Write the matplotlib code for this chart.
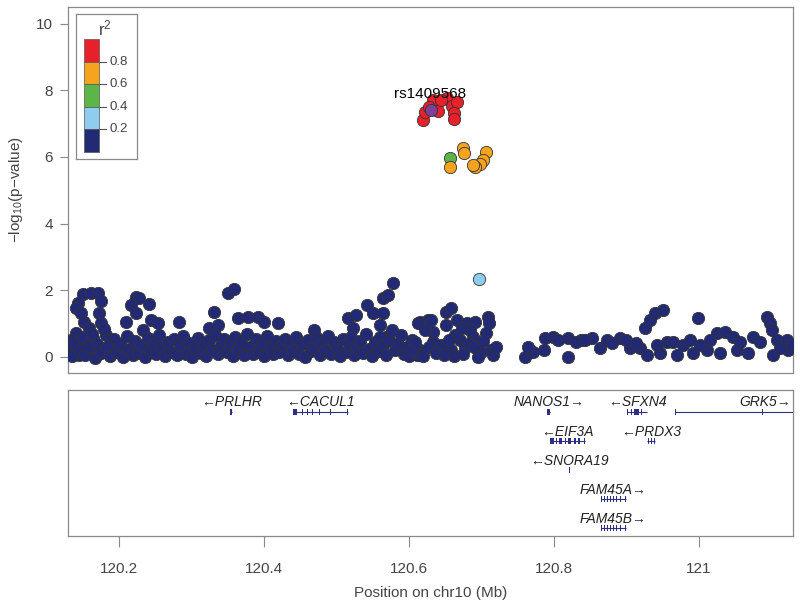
import matplotlib
matplotlib.use('Agg')
import matplotlib.pyplot as plt
from matplotlib.patches import Rectangle

plt.rcParams['font.family'] = ['Liberation Sans', 'DejaVu Sans']
plt.rcParams['mathtext.default'] = 'regular'

# ---- association results: (position Mb, -log10 p) by LD bin ----
lead_name = 'rs1409568'
lead_pos = [120.630]
lead_logp = [7.42]

red_snps = [(120.620, 7.12), (120.623, 7.34), (120.637, 7.62), (120.641, 7.37),
            (120.633, 7.72), (120.653, 7.77), (120.660, 7.52), (120.667, 7.64),
            (120.662, 7.32), (120.663, 7.14), (120.645, 7.70), (120.628, 7.50)]
orange_snps = [(120.657, 5.71), (120.675, 6.26), (120.676, 6.11), (120.706, 6.16),
               (120.703, 5.92), (120.698, 5.80), (120.692, 5.71), (120.689, 5.77)]
green_snps = [(120.657, 5.96)]
ltblue_snps = [(120.697, 2.34)]
navy_snps = [
    # left edge cluster
    (120.151, 1.89), (120.162, 1.92), (120.171, 1.92), (120.175, 1.68), (120.144, 1.62),
    (120.141, 1.47), (120.148, 1.32), (120.173, 1.32), (120.175, 1.02), (120.152, 1.05),
    (120.141, 0.72), (120.134, 0.51), (120.159, 0.87), (120.164, 0.57), (120.182, 0.66),
    (120.189, 0.51), (120.131, 0.21), (120.145, 0.06), (120.169, 0.15), (120.155, 0.33),
    (120.196, 0.27),
    (120.224, 1.80), (120.228, 1.77), (120.217, 1.56), (120.242, 1.59), (120.224, 1.32),
    (120.210, 1.05), (120.244, 1.11), (120.254, 1.02), (120.233, 0.81), (120.350, 1.92),
    (120.359, 2.04), (120.331, 1.35), (120.283, 1.05), (120.364, 1.17), (120.378, 1.20),
    (120.392, 1.20), (120.400, 1.05), (120.419, 1.02), (120.324, 0.87), (120.337, 0.96),
    (120.469, 0.81), (120.516, 1.17), (120.527, 1.26), (120.543, 1.56), (120.550, 1.32),
    (120.564, 1.32), (120.565, 1.77), (120.572, 1.86), (120.578, 2.22), (120.523, 0.87),
    (120.561, 0.96), (120.568, 0.60), (120.605, 0.51), (120.616, 1.05), (120.626, 1.11),
    (120.633, 0.75), (120.616, 0.21), (120.612, 0.06),
    # around the peak
    (120.613, 1.02), (120.630, 1.11), (120.651, 1.35), (120.658, 1.47), (120.667, 1.11),
    (120.681, 1.02), (120.692, 1.05), (120.709, 1.20), (120.710, 1.02), (120.706, 0.72),
    (120.671, 0.51), (120.678, 0.30), (120.713, 0.21), (120.658, 0.21), (120.634, 0.45),
    (120.688, 0.60), (120.699, 0.15), (120.644, 0.36), (120.664, 0.66), (120.623, 0.81),
    (120.685, 0.81), (120.651, 0.96), (120.674, 0.87),
    # right block
    (120.761, 0.00), (120.772, 0.15), (120.786, 0.21), (120.788, 0.57), (120.799, 0.60),
    (120.819, 0.57), (120.820, 0.00), (120.837, 0.51), (120.853, 0.57), (120.864, 0.27),
    (120.874, 0.51), (120.892, 0.57), (120.905, 0.27), (120.919, 0.27), (120.926, 0.87),
    (120.933, 1.11), (120.940, 1.32), (120.951, 1.41), (120.929, 0.06), (120.956, 0.45),
    (120.965, 0.45), (120.978, 0.36), (120.999, 1.17), (120.992, 0.12), (121.012, 0.21),
    (121.025, 0.72), (121.036, 0.75), (121.047, 0.60), (121.053, 0.21), (121.075, 0.60),
    (121.085, 0.45), (121.094, 1.20), (121.098, 1.02), (121.101, 0.81), (121.108, 0.51),
    (121.122, 0.51), (121.123, 0.21), (121.068, 0.12), (121.102, 0.06), (121.029, 0.12),
    (120.970, 0.06), (120.947, 0.12), (120.806, 0.51), (120.830, 0.45), (120.843, 0.51),
    (120.881, 0.42), (120.899, 0.51), (120.913, 0.42), (121.002, 0.36), (121.016, 0.51),
    (121.057, 0.45), (121.112, 0.27), (121.129, 0.36), (120.943, 0.36), (120.988, 0.51),
    (120.765, 0.30),
    # dense low band
    (120.132, 0.35), (120.136, 0.02), (120.140, 0.45), (120.146, 0.18), (120.150, 0.60),
    (120.153, 0.05), (120.158, 0.32), (120.163, 0.70), (120.167, -0.02), (120.170, 0.40),
    (120.176, 0.12), (120.180, 0.85), (120.184, 0.30), (120.188, 0.02), (120.193, 0.55),
    (120.198, 0.15), (120.202, 0.38), (120.206, 0.00), (120.211, 0.62), (120.214, 0.25),
    (120.219, 0.05), (120.222, 0.48), (120.227, 0.12), (120.231, 0.35), (120.236, 0.00),
    (120.240, 0.58), (120.243, 0.22), (120.248, 0.40), (120.252, 0.08), (120.256, 0.65),
    (120.260, 0.30), (120.264, 0.02), (120.268, 0.45), (120.272, 0.15), (120.276, 0.55),
    (120.281, 0.05), (120.285, 0.35), (120.289, 0.62), (120.293, 0.10), (120.297, 0.42),
    (120.301, 0.00), (120.305, 0.28), (120.309, 0.58), (120.313, 0.12), (120.317, 0.40),
    (120.321, 0.03), (120.325, 0.50), (120.329, 0.20), (120.333, 0.65), (120.337, 0.08),
    (120.341, 0.35), (120.345, 0.55), (120.349, 0.15), (120.353, 0.42), (120.357, 0.02),
    (120.361, 0.60), (120.365, 0.25), (120.369, 0.45), (120.373, 0.05), (120.377, 0.70),
    (120.381, 0.30), (120.385, 0.10), (120.389, 0.55), (120.393, 0.18), (120.397, 0.40),
    (120.401, 0.02), (120.405, 0.62), (120.409, 0.28), (120.413, 0.08), (120.417, 0.48),
    (120.421, 0.15), (120.425, 0.35), (120.429, 0.55), (120.433, 0.05), (120.437, 0.42),
    (120.441, 0.22), (120.445, 0.60), (120.449, 0.10), (120.453, 0.38), (120.457, 0.00),
    (120.461, 0.50), (120.465, 0.18), (120.469, 0.30), (120.473, 0.58), (120.477, 0.05),
    (120.481, 0.40), (120.485, 0.20), (120.489, 0.62), (120.493, 0.08), (120.497, 0.45),
    (120.501, 0.25), (120.505, 0.02), (120.509, 0.55), (120.513, 0.15), (120.517, 0.38),
    (120.521, 0.60), (120.525, 0.05), (120.529, 0.30), (120.533, 0.48), (120.537, 0.12),
    (120.541, 0.70), (120.545, 0.25), (120.549, 0.02), (120.553, 0.45), (120.557, 0.18),
    (120.561, 0.60), (120.565, 0.35), (120.569, 0.05), (120.573, 0.50), (120.577, 0.80),
    (120.581, 0.20), (120.585, 0.40), (120.589, 0.65), (120.593, 0.10), (120.597, 0.30),
    (120.601, 0.02), (120.605, 0.20), (120.609, 0.45), (120.620, 0.02), (120.628, 0.30),
    (120.638, 0.12), (120.648, 0.05), (120.655, 0.50), (120.662, 0.02), (120.675, 0.08),
    (120.683, 0.40), (120.690, 0.30), (120.696, 0.00), (120.703, 0.48), (120.716, 0.05),
    (120.720, 0.30),
]

r2_breaks = ['0.2', '0.4', '0.6', '0.8']
r2_colors = ['#222a75', '#8ecdf0', '#5bb647', '#f6a31e', '#e8202a']
lead_color = '#7d3f98'

# ---- genes ----
gene_names = ['PRLHR', 'CACUL1', 'NANOS1', 'SFXN4', 'GRK5',
              'EIF3A', 'PRDX3', 'SNORA19', 'FAM45A', 'FAM45B']
gene_start = [120.354, 120.441, 120.791, 120.901, 120.967,
              120.795, 120.929, 120.821, 120.865, 120.865]
gene_end = [120.356, 120.516, 120.795, 120.929, 121.300,
            120.843, 120.940, 120.821, 120.899, 120.899]
gene_strand = ['-', '-', '+', '-', '+', '-', '-', '-', '+', '+']
gene_row = [1, 1, 1, 1, 1, 2, 2, 3, 4, 5]
gene_exons = [
    [(120.354, 120.356)],
    [(120.441, 120.446), (120.453, 120.454), (120.460, 120.461), (120.466, 120.467),
     (120.476, 120.477), (120.491, 120.492), (120.515, 120.516)],
    [(120.791, 120.795)],
    [(120.901, 120.903), (120.906, 120.907), (120.910, 120.918), (120.920, 120.922)],
    [(120.967, 120.968), (121.087, 121.088)],
    [(120.795, 120.800), (120.803, 120.805), (120.807, 120.811), (120.815, 120.816),
     (120.819, 120.824), (120.828, 120.831), (120.834, 120.836), (120.842, 120.843)],
    [(120.930, 120.932), (120.934, 120.936), (120.938, 120.940)],
    [(120.8205, 120.8215)],
    [(120.865, 120.866), (120.869, 120.870), (120.873, 120.874), (120.878, 120.879),
     (120.882, 120.883), (120.886, 120.887), (120.891, 120.892), (120.898, 120.899)],
    [(120.865, 120.866), (120.869, 120.870), (120.873, 120.874), (120.878, 120.879),
     (120.882, 120.883), (120.886, 120.887), (120.891, 120.892), (120.898, 120.899)],
]

xmin, xmax = 120.13, 121.13
frame_col = '#8a8a8a'
text_col = '#444444'

fig = plt.figure(figsize=(8, 6.02), dpi=100)
ax = fig.add_axes([68 / 800, 1 - 373 / 602, 725 / 800, 366 / 602])
gx = fig.add_axes([68 / 800, 1 - 536 / 602, 725 / 800, 146 / 602])

# scatter, lowest LD first
groups = [(navy_snps, r2_colors[0]), (ltblue_snps, r2_colors[1]),
          (green_snps, r2_colors[2]), (orange_snps, r2_colors[3]),
          (red_snps, r2_colors[4])]
for snps, col in groups:
    xs = [p for p, v in snps]
    ys = [v for p, v in snps]
    ax.scatter(xs, ys, s=78, c=col, edgecolors='#333333', linewidths=0.6, zorder=3)
ax.scatter(lead_pos, lead_logp, s=78, c=lead_color, edgecolors='#333333',
           linewidths=0.6, zorder=4)
ax.text(lead_pos[0], lead_logp[0] + 0.25, lead_name, ha='center', va='bottom',
        fontsize=11, color='black', zorder=5)

ax.set_xlim(xmin, xmax)
ax.set_ylim(-0.48, 10.5)
ax.set_yticks([0, 2, 4, 6, 8, 10])
ax.set_xticks([])
ax.set_ylabel('\u2212log$_{10}$(p\u2212value)', color=text_col, fontsize=11, labelpad=8)
ax.tick_params(axis='y', colors=frame_col, labelcolor=text_col, labelsize=11,
               length=6, width=0.8, pad=5)
for sp in ax.spines.values():
    sp.set_color(frame_col)
    sp.set_linewidth(0.9)

# r^2 legend box
lg = fig.add_axes([76 / 800, 1 - 159 / 602, 61 / 800, 145 / 602])
lg.set_xlim(0, 61)
lg.set_ylim(145, 0)
lg.set_xticks([])
lg.set_yticks([])
for sp in lg.spines.values():
    sp.set_color(frame_col)
    sp.set_linewidth(0.9)
seg = 22.6
for i, col in enumerate(reversed(r2_colors)):
    lg.add_patch(Rectangle((8, 25 + i * seg), 15, seg, facecolor=col,
                           edgecolor='#555555', linewidth=0.5))
for i, lab in enumerate(reversed(r2_breaks)):
    yb = 25 + (i + 1) * seg
    lg.plot([23, 30], [yb, yb], color='#555555', lw=0.8)
    lg.text(33, yb, lab, va='center', ha='left', fontsize=9.5, color=text_col)
lg.text(29, 14, 'r$^2$', ha='center', va='center', fontsize=12, color=text_col)

# gene track
gx.set_xlim(xmin, xmax)
gx.set_ylim(5.03, 0)
for name, s, e, strand, row, exons in zip(gene_names, gene_start, gene_end,
                                          gene_strand, gene_row, gene_exons):
    yg = row - 0.24
    gx.plot([s, min(e, xmax + 0.01)], [yg, yg], color='#2b2f85', lw=0.8,
            solid_capstyle='butt', zorder=2)
    for a, b in exons:
        w = max(b - a, 0.0013)
        gx.add_patch(Rectangle((a, yg - 0.1), w, 0.2, facecolor='#2b2f85',
                               edgecolor='none', zorder=3))
    label = '\u2190' + name if strand == '-' else name + '\u2192'
    mid = (s + e) / 2
    if e > xmax:
        gx.text(xmax - 0.003, yg - 0.33, label, ha='right', va='center',
                fontsize=10, style='italic', color='#222222')
    else:
        gx.text(mid, yg - 0.33, label, ha='center', va='center',
                fontsize=10, style='italic', color='#222222')

gx.set_yticks([])
gx.set_xticks([120.2, 120.4, 120.6, 120.8, 121.0])
gx.set_xticklabels(['120.2', '120.4', '120.6', '120.8', '121'])
gx.tick_params(axis='x', colors=frame_col, labelcolor=text_col, labelsize=11,
               length=8, width=0.8, pad=11)
gx.set_xlabel('Position on chr10 (Mb)', color=text_col, fontsize=11, labelpad=7)
for sp in gx.spines.values():
    sp.set_color(frame_col)
    sp.set_linewidth(0.9)

fig.savefig('out.png', dpi=100)
